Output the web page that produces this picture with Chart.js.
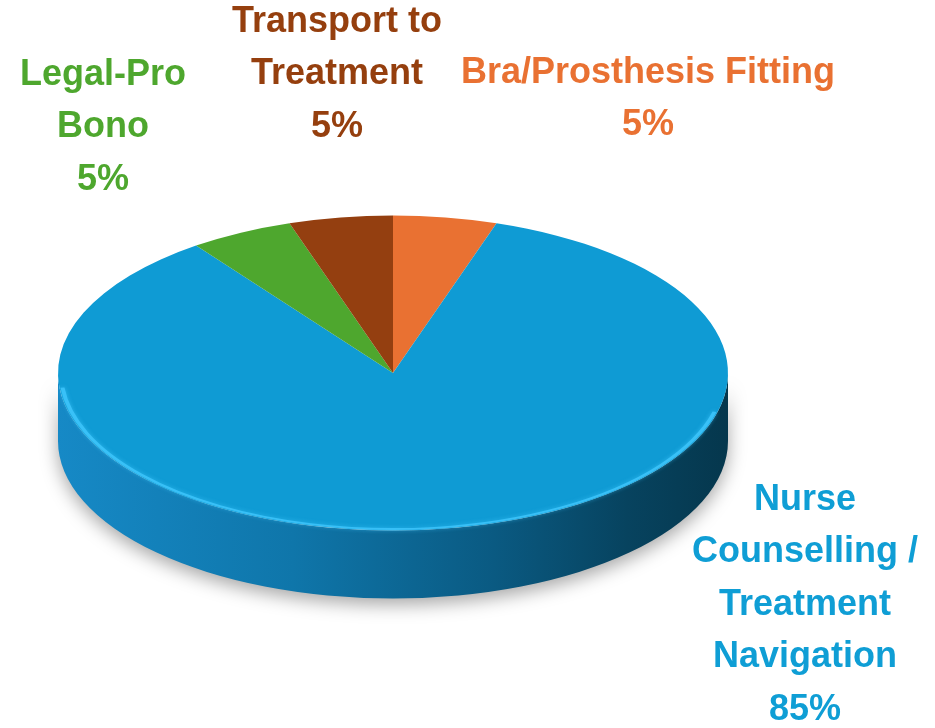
<!DOCTYPE html>
<html>
<head>
<meta charset="utf-8">
<script src="https://cdn.jsdelivr.net/npm/chart.js@4/dist/chart.umd.min.js"></script>
<style>
  body { margin: 0; background: #fff; }
  #wrap { width: 935px; height: 728px; position: relative; }
</style>
</head>
<body>
<div id="wrap"><canvas id="pieChart"></canvas></div>
<script>
// Services share
var categories = [
    ['Bra/Prosthesis Fitting'],
    ['Nurse', 'Counselling /', 'Treatment', 'Navigation'],
    ['Legal-Pro', 'Bono'],
    ['Transport to', 'Treatment']
];
var values = [5, 85, 5, 5];
var sliceColors = ['#E97132', '#0F9BD4', '#4EA72E', '#943F10'];
var labelColors = ['#E97132', '#0F9ED5', '#4EA72E', '#953F0E'];

// label anchors (centre x, first line centre y)
var labelPos = [[648, 73], [805, 500], [103, 75], [337, 22]];

var tilt = 0.47;      // vertical squash of the top face
var thickness = 68;   // side height in px

var pie3d = {
    id: 'pie3d',
    beforeDatasetsDraw: function (chart) {
        var ctx = chart.ctx;
        var arcs = chart.getDatasetMeta(0).data;
        var cx = arcs[0].x, cy = arcs[0].y, r = arcs[0].outerRadius;
        var depth = thickness / tilt;

        ctx.save();
        ctx.translate(cx, cy);
        ctx.scale(1, tilt);
        var grad = ctx.createLinearGradient(-r, 0, r, 0);
        grad.addColorStop(0, '#1689c6');
        grad.addColorStop(0.35, '#0f76aa');
        grad.addColorStop(0.65, '#0a5a82');
        grad.addColorStop(0.85, '#07435f');
        grad.addColorStop(1, '#05374d');
        arcs.forEach(function (arc, i) {
            var lo = Math.max(arc.startAngle, 0);
            var hi = Math.min(arc.endAngle, Math.PI);
            if (hi <= lo) return;
            ctx.beginPath();
            ctx.arc(0, 0, r, lo, hi);
            ctx.arc(0, depth, r, hi, lo, true);
            ctx.closePath();
            ctx.shadowColor = 'rgba(0,0,0,0.35)';
            ctx.shadowBlur = 18;
            ctx.shadowOffsetY = 6;
            ctx.fillStyle = i === 1 ? grad : sliceColors[i];
            ctx.fill();
        });
        ctx.restore();

        // squash the top face
        ctx.save();
        ctx.translate(cx, cy);
        ctx.scale(1, tilt);
        ctx.translate(-cx, -cy);
    },
    afterDatasetsDraw: function (chart) {
        var ctx = chart.ctx;
        ctx.restore();
        var arcs = chart.getDatasetMeta(0).data;
        var cx = arcs[0].x, cy = arcs[0].y, r = arcs[0].outerRadius;

        // light rim along the front edge
        ctx.save();
        ctx.translate(cx, cy);
        ctx.scale(1, tilt);
        ctx.beginPath();
        ctx.arc(0, 0, r - 3, 0.08 * Math.PI, 0.97 * Math.PI);
        ctx.strokeStyle = 'rgba(60,195,250,0.9)';
        ctx.lineWidth = 4;
        ctx.shadowColor = 'rgba(60,195,250,0.8)';
        ctx.shadowBlur = 4;
        ctx.stroke();
        ctx.restore();

        // data labels
        ctx.save();
        ctx.font = 'bold 36px "Liberation Sans", Arial, sans-serif';
        ctx.textAlign = 'center';
        ctx.textBaseline = 'middle';
        var lineH = 52.5;
        chart.data.labels.forEach(function (lines, i) {
            var all = lines.concat([values[i] + '%']);
            ctx.fillStyle = labelColors[i];
            all.forEach(function (t, k) {
                ctx.fillText(t, labelPos[i][0], labelPos[i][1] + k * lineH);
            });
        });
        ctx.restore();
    }
};

var ctx = document.getElementById('pieChart').getContext('2d');
var pieChart = new Chart(ctx, {
    type: 'pie',
    data: {
        labels: categories,
        datasets: [{
            data: values,
            backgroundColor: sliceColors,
            borderWidth: 0
        }]
    },
    options: {
        responsive: true,
        maintainAspectRatio: false,
        animation: false,
        layout: {padding: {left: 58, right: 207, top: 38, bottom: 20}},
        plugins: {
            legend: {display: false},
            tooltip: {enabled: false}
        }
    },
    plugins: [pie3d]
});
</script>
</body>
</html>
